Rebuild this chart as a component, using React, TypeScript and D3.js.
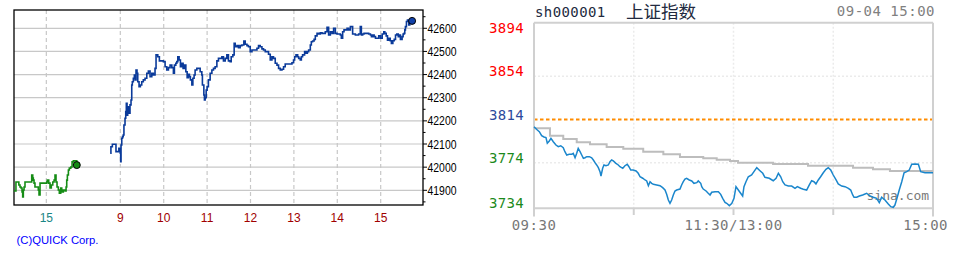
import React from 'react';
import * as d3 from 'd3';

// ---------------- Left chart (Nikkei, QUICK) ----------------
// previous session minutes are shifted onto the shared axis by this offset
const PREV_OFFSET = 462.3;

// [clock minute of previous day, value]
const nkPrevSession: [number, number][] = [
  [855, 41897], [858, 41936], [861, 41936], [862, 41923], [863.6, 41914], [865, 41910], [866.4, 41893],
  [867.3, 41871], [868.2, 41901], [869.2, 41914], [870.5, 41936], [875.1, 41936], [878.8, 41936],
  [879.8, 41966], [881.2, 41953], [882, 41944], [883, 41931], [884.3, 41914], [886.7, 41914],
  [888.9, 41901], [889.9, 41880], [891.3, 41931], [895.8, 41931], [900.6, 41936], [901.4, 41944],
  [903.3, 41931], [905.1, 41910], [906.9, 41923], [908.9, 41936], [910.7, 41944], [912, 41966],
  [913.4, 41936], [914.8, 41914], [916.6, 41901], [918, 41888], [919.9, 41910], [921.3, 41893],
  [923.5, 41901], [925.9, 41897], [927.3, 41914], [928.2, 41944], [929.1, 41966], [930.5, 41988],
  [931.8, 41996], [933.8, 42001], [935.6, 42023], [937.4, 42027], [940.7, 42027], [942.1, 42009],
];

// [clock minute of today, value]
const nkSession: [number, number][] = [
  [526, 42060], [527, 42088], [529, 42099], [533, 42099], [534, 42067], [536, 42067], [538, 42081],
  [540, 42060], [540.5, 42024], [541, 42096], [542, 42125], [543, 42132], [544, 42139], [545, 42182],
  [546.5, 42211], [547.5, 42240], [548.3, 42276], [549.3, 42225], [550.2, 42261], [551.1, 42261],
  [552, 42233], [553.4, 42269], [554.8, 42290], [555.8, 42355], [556.6, 42369], [558, 42384],
  [559.4, 42398], [560.4, 42377], [561.7, 42420], [563.1, 42406], [564.1, 42369], [565.9, 42348],
  [567.7, 42355], [569.6, 42369], [571.8, 42377], [574.2, 42384], [576.6, 42406], [578.8, 42415],
  [581.1, 42391], [583.5, 42406], [585.7, 42398], [588, 42427], [589.4, 42485], [591.8, 42477],
  [594, 42459], [597.3, 42459], [599.5, 42456], [601.9, 42434], [604.2, 42420], [606.5, 42430],
  [608.8, 42441], [611.2, 42430], [613.4, 42406], [614.8, 42441], [616.7, 42449], [618.1, 42456],
  [619.5, 42477], [621.3, 42463], [623.1, 42434], [625, 42449], [626.8, 42427], [628.6, 42441],
  [630.6, 42412], [632.4, 42387], [634.2, 42401], [635.5, 42391], [636.9, 42377], [638.9, 42355],
  [640.3, 42384], [642, 42398], [643.4, 42420], [645.8, 42427], [648, 42427], [650.4, 42412],
  [652.7, 42398], [653.5, 42355], [655.5, 42312], [656.3, 42290], [657.3, 42300], [658.7, 42333],
  [660, 42348], [661.8, 42377], [664.2, 42406], [666.6, 42420], [668.8, 42427], [671.1, 42434],
  [673.5, 42459], [675.7, 42470], [678, 42470], [680.4, 42477], [682.6, 42459], [685, 42470],
  [687.3, 42485], [689.5, 42459], [691.9, 42456], [693.3, 42477], [695.6, 42485], [697.4, 42535],
  [698.8, 42520], [701.2, 42525], [703.4, 42516], [705.7, 42525], [708.1, 42528], [710.8, 42545],
  [712.7, 42531], [715.1, 42525], [717.2, 42520], [719.6, 42499], [722, 42506], [726.5, 42506],
  [728.9, 42514], [731.1, 42525], [733.4, 42520], [735.8, 42511], [738, 42506], [740.4, 42499],
  [744.9, 42488], [747.3, 42463], [749.6, 42477], [751.8, 42470], [754.2, 42449], [756.6, 42441],
  [758.8, 42427], [761.1, 42420], [763.5, 42423], [765.7, 42434], [768, 42446], [775, 42446],
  [777.3, 42451], [779.5, 42463], [781, 42477], [782.9, 42485], [785.2, 42477], [786.6, 42470],
  [788.8, 42463], [790.3, 42477], [792, 42485], [794.8, 42499], [796.8, 42492], [798.6, 42499],
  [800.4, 42506], [802.7, 42528], [804.1, 42542], [805.9, 42545], [807.9, 42552], [809.6, 42567],
  [812, 42578], [814.2, 42575], [816.5, 42581], [818.9, 42578], [823.4, 42585], [825.8, 42604],
  [828, 42571], [830.4, 42585], [832.7, 42578], [834.9, 42600], [837.3, 42578], [839.6, 42575],
  [844.2, 42571], [845.6, 42557], [847.4, 42585], [849.3, 42593], [853.5, 42600], [855.7, 42593],
  [858.1, 42607], [861.2, 42575], [865, 42571], [869.5, 42575], [871.8, 42607], [873.3, 42571],
  [875.1, 42575], [877, 42578], [883.4, 42575], [885.8, 42571], [887.2, 42564], [889, 42571],
  [890.9, 42564], [892.8, 42557], [895.1, 42557], [897.3, 42567], [899.7, 42557], [902.1, 42575],
  [904.3, 42585], [905.7, 42578], [907.6, 42567], [909.4, 42549], [911.3, 42557], [913.2, 42546],
  [914.8, 42535], [916.8, 42546], [918.7, 42552], [920.5, 42571], [922.3, 42575], [924.3, 42564],
  [926, 42571], [927.3, 42552], [929.6, 42564], [931, 42575], [932.4, 42578], [933.3, 42593],
  [934.2, 42607], [935.6, 42629], [937, 42636], [938.8, 42614], [940.2, 42624], [941.6, 42629],
  [943.4, 42632],
];

const nkYTicks = [41900, 42000, 42100, 42200, 42300, 42400, 42500, 42600];
const nkXTickLabels = ['15', '9', '10', '11', '12', '13', '14', '15'];
const nkXTickMinutes = [900 - PREV_OFFSET, 540, 600, 660, 720, 780, 840, 900];
const nkXTickIsPrev = [true, false, false, false, false, false, false, false];

// ---------------- Right chart (Shanghai composite, Sina) ----------------
// [minute index of the 240-minute session, price]
const shPrice: [number, number][] = [
  [0, 3807.3], [2, 3804.3], [3.2, 3802.7], [4.6, 3799.0], [6, 3797.8], [7.2, 3797.2], [8, 3792.0],
  [9.2, 3794.1], [10.2, 3796.6], [11.6, 3793.4], [13.2, 3790.4], [14.6, 3788.8], [16.1, 3789.7],
  [17.6, 3787.9], [18.6, 3784.2], [19.7, 3781.1], [21.2, 3781.8], [22.6, 3781.8], [23.6, 3782.7],
  [24.7, 3778.6], [25.7, 3782.7], [26.6, 3787.3], [27.7, 3784.2], [28.7, 3781.1], [29.7, 3778.1],
  [30.7, 3778.6], [31.7, 3779.6], [33.3, 3779.6], [34.7, 3778.6], [35.7, 3776.5], [36.7, 3774.0],
  [37.7, 3771.9], [38.7, 3769.4], [39.7, 3765.7], [40.3, 3761.7], [41.3, 3768.8], [42.1, 3771.9],
  [43.3, 3771.2], [44.7, 3771.9], [45.7, 3774.9], [46.7, 3776.5], [47.7, 3775.6], [49.3, 3773.4],
  [50.7, 3771.9], [51.7, 3770.3], [53.4, 3768.8], [54.7, 3771.2], [56.1, 3772.5], [57.1, 3770.3],
  [58.2, 3767.2], [59.7, 3767.2], [61.4, 3766.3], [62.7, 3764.2], [63.8, 3761.0], [65.4, 3759.6],
  [66.8, 3758.0], [67.8, 3757.1], [68.8, 3752.7], [69.8, 3756.4], [70.8, 3754.9], [71.8, 3754.0],
  [73.8, 3753.4], [75.8, 3752.7], [77.4, 3750.9], [78.8, 3748.7], [79.8, 3744.7], [80.8, 3739.5],
  [81.8, 3736.4], [82.8, 3739.5], [83.8, 3744.1], [84.8, 3747.8], [85.8, 3748.7], [87.8, 3749.6],
  [88.8, 3753.4], [89.8, 3756.4], [90.8, 3758.9], [91.8, 3759.6], [93.4, 3758.0], [94.9, 3757.1],
  [96.2, 3754.9], [97.9, 3755.5], [98.8, 3757.1], [100.3, 3754.9], [100.9, 3751.8], [101.8, 3749.6],
  [103.5, 3747.8], [104.8, 3745.7], [105.9, 3744.1], [106.9, 3746.6], [108.9, 3747.1], [110.9, 3747.1],
  [112.3, 3744.7], [113.5, 3741.0], [114.9, 3737.3], [115.9, 3736.4], [117.5, 3734.2], [119, 3736.4],
  [120.3, 3741.0], [121.5, 3751.8], [122.9, 3748.7], [124.3, 3745.7], [125.5, 3743.2], [126.3, 3751.8],
  [127.5, 3756.4], [128.9, 3761.0], [130.9, 3762.6], [132.3, 3765.7], [134, 3769.4], [135.9, 3766.6],
  [137.6, 3764.2], [138.9, 3760.5], [141.5, 3759.6], [143.9, 3757.3], [145.6, 3759.6], [147, 3764.2],
  [148.4, 3761.0], [149.6, 3756.4], [151, 3753.4], [153, 3752.4], [155, 3752.4], [157, 3750.3],
  [158.4, 3751.8], [160.4, 3750.3], [162, 3749.4], [164, 3748.7], [165.6, 3753.4], [167, 3757.3],
  [168.4, 3756.4], [169.6, 3754.3], [171, 3758.0], [172.4, 3761.0], [174, 3764.7], [175.6, 3767.9],
  [177, 3769.4], [178.5, 3767.2], [180, 3762.6], [181.7, 3758.0], [183, 3754.3], [185.1, 3752.4],
  [187.1, 3751.8], [189.1, 3750.3], [190.5, 3748.7], [191.7, 3744.1], [192.5, 3742.0], [194.1, 3742.0],
  [195.7, 3743.2], [197.7, 3744.1], [200.1, 3745.7], [202.1, 3743.2], [204.1, 3742.0], [206.1, 3741.0],
  [207.7, 3737.0], [209.1, 3742.0], [211.1, 3739.5], [213.1, 3735.8], [214.6, 3733.3], [216.1, 3732.7],
  [217.1, 3734.8], [218.5, 3742.0], [219.7, 3748.7], [221.2, 3756.4], [222.6, 3764.7], [224.2, 3765.7],
  [225.7, 3767.2], [227.2, 3772.5], [229.2, 3772.8], [231.2, 3772.5], [232.6, 3765.7], [235.2, 3764.7],
  [240, 3764.7],
];

const shAverage: [number, number][] = [
  [0, 3805.9], [9.6, 3799.0], [17.6, 3795.9], [25.7, 3792.9], [33.7, 3791.0], [43.7, 3788.5],
  [53.7, 3787.0], [65.7, 3784.2], [77.8, 3781.8], [87.8, 3779.3], [101.8, 3778.1], [109.9, 3776.8],
  [117.9, 3775.6], [122.7, 3774.0], [143.8, 3772.8], [164.8, 3771.2], [191.9, 3769.4], [203.9, 3767.9],
  [214.1, 3766.3], [240, 3766.3],
];

const shPrevClose = 3814;
const shYTicks = [3894, 3854, 3814, 3774, 3734];
const shYTickColors = ['#ff0000', '#ff0000', '#2c4a9c', '#1b8a1b', '#1b8a1b'];
const shGridValues = [3854, 3774];
const shXTickLabels = ['09:30', '11:30/13:00', '15:00'];
const shXTickIdx = [0, 120, 240];
const shGridIdx = [60, 120, 180];

const MONO = '"DejaVu Sans Mono", "Liberation Mono", monospace';
const SANS = '"Liberation Sans", Arial, sans-serif';

export default function App() {
  // ---- left scales
  const nkX = d3.scaleLinear().domain([393, 958.5]).range([14, 423]);
  const nkY = d3.scaleLinear().domain([41836.5, 42679]).range([205, 10]);
  const prevLine = d3
    .line<[number, number]>()
    .x((d) => nkX(d[0] - PREV_OFFSET))
    .y((d) => nkY(d[1]))
    .curve(d3.curveStepAfter);
  const todayLine = d3
    .line<[number, number]>()
    .x((d) => nkX(d[0]))
    .y((d) => nkY(d[1]))
    .curve(d3.curveStepAfter);
  const nkMinor = d3.range(41850, 42679, 50);
  const prevLast = nkPrevSession[nkPrevSession.length - 1];
  const todayLast = nkSession[nkSession.length - 1];

  // ---- right scales
  const shX = d3.scaleLinear().domain([0, 240]).range([534, 933]);
  const shY = d3
    .scaleLinear()
    .domain([3734, 3894])
    .range([119.5 + 80 * 1.08, 119.5 - 80 * 1.08]);
  const priceLine = d3
    .line<[number, number]>()
    .x((d) => shX(d[0]))
    .y((d) => shY(d[1]));
  const avgLine = d3
    .line<[number, number]>()
    .x((d) => shX(d[0]))
    .y((d) => shY(d[1]))
    .curve(d3.curveStepAfter);
  const shTop = 22.7;
  const shBottom = 208.3;

  return (
    <svg
      width={955}
      height={260}
      style={{ position: 'absolute', left: 0, top: 0, background: '#fff' }}
    >
      <rect x={0} y={0} width={955} height={260} fill="#fff" />

      {/* ======== LEFT CHART ======== */}
      {nkYTicks.map((t) => (
        <line key={'hg' + t} x1={14} x2={423} y1={nkY(t)} y2={nkY(t)} stroke="#c8c8c8" strokeWidth={1.2} />
      ))}
      {nkXTickMinutes.map((m, i) => (
        <line
          key={'vg' + i}
          x1={nkX(m)}
          x2={nkX(m)}
          y1={10}
          y2={205}
          stroke="#c8c8c8"
          strokeWidth={1.2}
          strokeDasharray="4,3"
        />
      ))}
      <rect x={14} y={10} width={409} height={195} fill="none" stroke="#000" strokeWidth={1.3} />
      {nkMinor.map((t) => (
        <line
          key={'tk' + t}
          x1={423}
          x2={t % 100 === 0 ? 427 : 425.5}
          y1={nkY(t)}
          y2={nkY(t)}
          stroke="#000"
          strokeWidth={1}
        />
      ))}
      {nkYTicks.map((t) => (
        <text
          key={'yl' + t}
          x={427.5}
          y={nkY(t) + 4.5}
          fontFamily={SANS}
          fontSize={12.5}
          fill="#000"
          textLength={29}
          lengthAdjust="spacingAndGlyphs"
        >
          {t}
        </text>
      ))}
      {nkXTickLabels.map((lab, i) => (
        <text
          key={'xl' + i}
          x={nkX(nkXTickMinutes[i])}
          y={221.5}
          textAnchor="middle"
          fontFamily={SANS}
          fontSize={12}
          fill={nkXTickIsPrev[i] ? '#1a8585' : '#a00000'}
        >
          {lab}
        </text>
      ))}
      <path d={prevLine(nkPrevSession) || ''} fill="none" stroke="#158c15" strokeWidth={1.6} />
      <path d={todayLine(nkSession) || ''} fill="none" stroke="#0a3a9a" strokeWidth={1.6} />
      <circle
        cx={nkX(prevLast[0] - PREV_OFFSET)}
        cy={nkY(prevLast[1])}
        r={3.5}
        fill="#138a13"
        stroke="#000"
        strokeWidth={1}
      />
      <circle cx={nkX(todayLast[0])} cy={nkY(todayLast[1])} r={3.5} fill="#1040a8" stroke="#000" strokeWidth={1} />
      <text x={16.5} y={244} fontFamily={SANS} fontSize={11} fill="#0000ff" textLength={82} lengthAdjust="spacingAndGlyphs">
        (C)QUICK Corp.
      </text>

      {/* ======== RIGHT CHART ======== */}
      <text x={535} y={16.5} fontFamily={MONO} fontSize={14} letterSpacing={0.4} fill="#222a40">
        sh000001
      </text>
      <text x={626} y={18} fontFamily='"Noto Sans CJK SC", sans-serif' fontSize={17.5} fill="#222a40">
        上证指数
      </text>
      <text x={935} y={16} textAnchor="end" fontFamily={MONO} fontSize={14} letterSpacing={0.5} fill="#808080">
        09-04 15:00
      </text>

      {shGridValues.map((v) => (
        <line
          key={'sg' + v}
          x1={534}
          x2={933}
          y1={shY(v)}
          y2={shY(v)}
          stroke="#ebebeb"
          strokeWidth={1.5}
          strokeDasharray="2,2"
        />
      ))}
      {shGridIdx.map((i) => (
        <line
          key={'sv' + i}
          x1={shX(i)}
          x2={shX(i)}
          y1={shTop}
          y2={shBottom}
          stroke="#ebebeb"
          strokeWidth={1.5}
          strokeDasharray="2,2"
        />
      ))}
      <line
        x1={534}
        x2={933}
        y1={shY(shPrevClose)}
        y2={shY(shPrevClose)}
        stroke="#ff8c00"
        strokeWidth={2}
        strokeDasharray="3.5,2.5"
      />
      <line x1={534} x2={933} y1={shTop} y2={shTop} stroke="#d0d0d0" strokeWidth={2} />
      <line x1={534} x2={534} y1={shTop} y2={216.5} stroke="#d0d0d0" strokeWidth={2} />
      <line x1={933} x2={933} y1={shTop} y2={216.5} stroke="#d0d0d0" strokeWidth={2} />
      <line x1={534} x2={933} y1={shBottom} y2={shBottom} stroke="#d0d0d0" strokeWidth={2} />
      {shGridIdx.map((i) => (
        <line key={'st' + i} x1={shX(i)} x2={shX(i)} y1={shBottom} y2={215} stroke="#d0d0d0" strokeWidth={2} />
      ))}
      <text x={866.5} y={200} fontFamily={MONO} fontSize={13} fill="#7a7a7a">
        sina.com
      </text>
      <path d={avgLine(shAverage) || ''} fill="none" stroke="#bdbdbd" strokeWidth={2} />
      <path d={priceLine(shPrice) || ''} fill="none" stroke="#1a86cc" strokeWidth={1.5} />

      {shYTicks.map((v, i) => (
        <text
          key={'sy' + v}
          x={524}
          y={i === shYTicks.length - 1 ? shBottom : shY(v)}
          textAnchor="end"
          fontFamily={MONO}
          fontSize={14}
          letterSpacing={0.3}
          fill={shYTickColors[i]}
        >
          {v}
        </text>
      ))}
      {shXTickLabels.map((lab, i) => (
        <text
          key={'sx' + i}
          x={i === shXTickLabels.length - 1 ? shX(shXTickIdx[i]) + 15 : shX(shXTickIdx[i])}
          y={230}
          textAnchor={i === shXTickLabels.length - 1 ? 'end' : 'middle'}
          fontFamily={MONO}
          fontSize={14}
          letterSpacing={0.5}
          fill="#777"
        >
          {lab}
        </text>
      ))}
    </svg>
  );
}
